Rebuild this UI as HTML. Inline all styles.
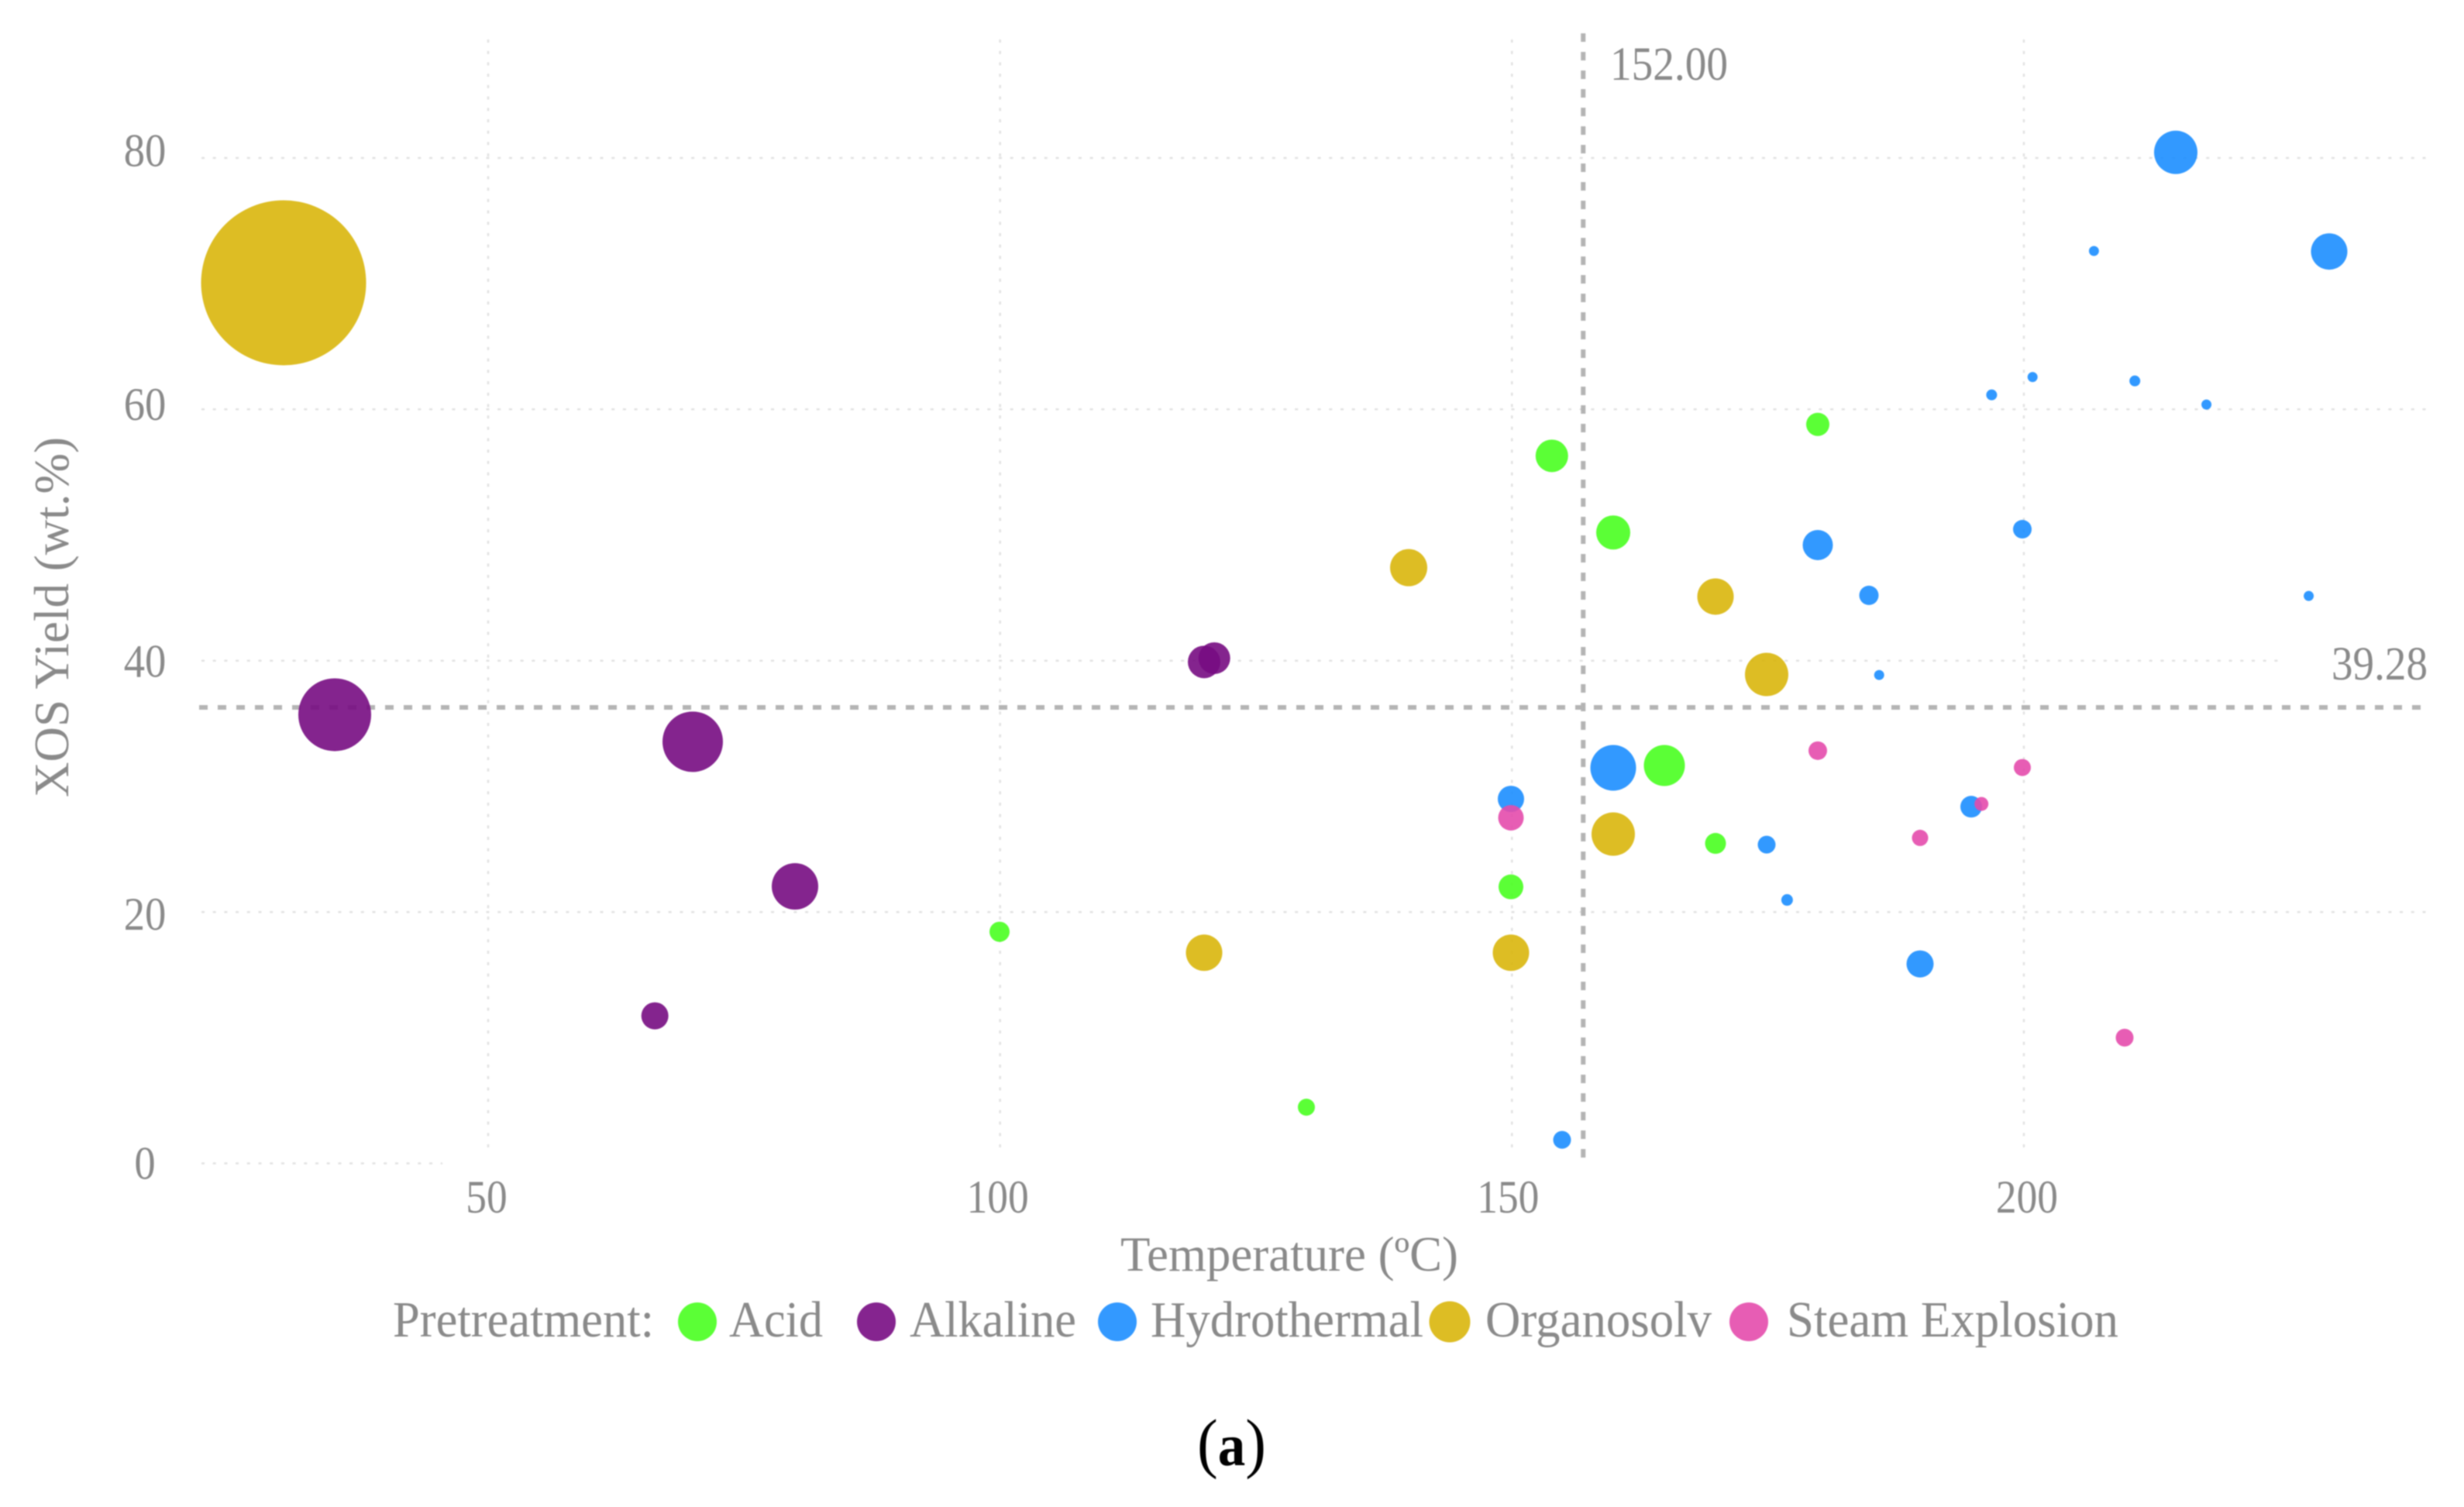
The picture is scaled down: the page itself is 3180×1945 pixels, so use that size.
<!DOCTYPE html>
<html lang="en">
<head>
<meta charset="utf-8">
<title>XOS Yield vs Temperature</title>
<style>
  html, body { margin: 0; padding: 0; background: #ffffff; }
  body { width: 3180px; height: 1945px; overflow: hidden; }
  svg { display: block; filter: blur(0.8px); }
  text { font-family: "Liberation Serif", serif; fill: #8a8a8a; }
</style>
</head>
<body>
<svg id="chart" xmlns="http://www.w3.org/2000/svg" width="3180" height="1945" viewBox="0 0 3180 1945">
  <rect x="0" y="0" width="3180" height="1945" fill="#ffffff"/>
  <g id="grid"></g>
  <g id="reference-lines"></g>
  <g id="marks"></g>
  <g id="ticks"></g>

  <text transform="translate(88,1029) rotate(-90)" font-size="64" textLength="465" lengthAdjust="spacingAndGlyphs">XOS Yield (wt.%)</text>
  <text x="1446" y="1640" font-size="63" textLength="436" lengthAdjust="spacingAndGlyphs">Temperature (ºC)</text>

  <g>
    <text x="507" y="1725" font-size="66" textLength="337" lengthAdjust="spacingAndGlyphs">Pretreatment:</text>
    <circle cx="900" cy="1706" r="25" fill="#5BFF36"/>
    <text x="941" y="1725" font-size="66" textLength="121" lengthAdjust="spacingAndGlyphs">Acid</text>
    <circle cx="1131" cy="1706" r="25" fill="#85248F"/>
    <text x="1174" y="1725" font-size="66" textLength="215" lengthAdjust="spacingAndGlyphs">Alkaline</text>
    <circle cx="1442" cy="1706" r="25" fill="#3399FF"/>
    <text x="1485" y="1725" font-size="66" textLength="352" lengthAdjust="spacingAndGlyphs">Hydrothermal</text>
    <circle cx="1871" cy="1706" r="26.5" fill="#DDBD24"/>
    <text x="1917" y="1725" font-size="66" textLength="292" lengthAdjust="spacingAndGlyphs">Organosolv</text>
    <circle cx="2257" cy="1706" r="25" fill="#E75DB4"/>
    <text x="2306" y="1725" font-size="66" textLength="428" lengthAdjust="spacingAndGlyphs">Steam Explosion</text>
  </g>

  <text x="1545" y="1891" font-size="86" textLength="89" lengthAdjust="spacingAndGlyphs" style="fill:#000000">(<tspan font-weight="bold" font-size="76">a</tspan>)</text>
</svg>

<script>
// Axis ticks
const xTicks = [50, 100, 150, 200];
const yTicks = [0, 20, 40, 60, 80];

// Reference lines (position as drawn) and their printed labels
const refTemperature = [156.96];
const refYield = [36.28];
const refTemperatureLabel = ["152.00"];
const refYieldLabel = ["39.28"];

// Series: temperature (ºC), XOS yield (wt.%), bubble size
const acidTemp  = [100, 130, 150, 154, 160, 165, 170, 180];
const acidYield = [18.43, 4.47, 22.0, 56.3, 50.2, 31.66, 25.46, 58.8];
const acidSize  = [169, 121, 256, 441, 484, 702, 182, 225];

const alkalineTemp  = [35, 66.3, 70, 80, 120, 121];
const alkalineYield = [35.7, 11.74, 33.55, 22.04, 39.9, 40.2];
const alkalineSize  = [2209, 306, 1521, 900, 441, 420];

const hydroTemp  = [150, 155, 160, 175, 177, 180, 185, 186, 190, 195, 197, 200, 201, 207, 211, 215, 218, 228, 230];
const hydroYield = [29.0, 1.87, 31.47, 25.36, 20.96, 49.2, 45.2, 38.86, 15.87, 28.38, 61.15, 50.46, 62.57, 72.6, 62.26, 80.45, 60.38, 45.15, 72.56];
const hydroSize  = [289, 132, 870, 132, 56, 380, 156, 42, 306, 196, 49, 144, 42, 42, 49, 784, 42, 42, 552];

const organoTemp  = [30, 120, 140, 150, 160, 170, 175];
const organoYield = [70.07, 16.76, 47.4, 16.76, 26.2, 45.1, 38.9];
const organoSize  = [11342, 552, 576, 552, 784, 552, 784];

const steamTemp  = [150, 180, 190, 196, 200, 210];
const steamYield = [27.5, 32.84, 25.9, 28.6, 31.5, 10.0];
const steamSize  = [272, 144, 110, 81, 121, 132];

const SVG_NS = "http://www.w3.org/2000/svg";

// Axis functions (gridlines sit a hair wider than the marks in the source figure)
function x(temp) { return 630 + (temp - 50) * 13.2; }
function gridX(temp) { return 630 + (temp - 50) * 13.213; }
function y(yieldPct) { return 1501.5 - yieldPct * 16.22; }
function radius(size) { return Math.sqrt(size); }

function drawLine(parent, x1, y1, x2, y2, stroke, width, dash) {
  const el = document.createElementNS(SVG_NS, "line");
  el.setAttribute("x1", x1);
  el.setAttribute("y1", y1);
  el.setAttribute("x2", x2);
  el.setAttribute("y2", y2);
  el.setAttribute("stroke", stroke);
  el.setAttribute("stroke-width", width);
  el.setAttribute("stroke-dasharray", dash);
  parent.appendChild(el);
  return el;
}

function drawText(parent, str, px, py, size, anchor, length) {
  const el = document.createElementNS(SVG_NS, "text");
  el.setAttribute("x", px);
  el.setAttribute("y", py);
  el.setAttribute("font-size", size);
  el.setAttribute("text-anchor", anchor);
  el.setAttribute("textLength", length);
  el.setAttribute("lengthAdjust", "spacingAndGlyphs");
  el.textContent = str;
  parent.appendChild(el);
  return el;
}

const gridLayer = document.getElementById("grid");
const refLayer = document.getElementById("reference-lines");
const markLayer = document.getElementById("marks");
const tickLayer = document.getElementById("ticks");

const GRID_COLOR = "#e2e2e2";
const GRID_DASH = "4 10.7";
const PLOT_LEFT = 260;
const PLOT_RIGHT = 3133;

// Gridlines
xTicks.forEach(function (t) {
  const line = drawLine(gridLayer, gridX(t), 51, gridX(t), 1488, GRID_COLOR, 2.5, GRID_DASH);
  
  
});
yTicks.forEach(function (t) {
  const end = t === 0 ? 571 : (t === 40 ? 2944 : PLOT_RIGHT);
  const line = drawLine(gridLayer, PLOT_LEFT, y(t), end, y(t), GRID_COLOR, 2.5, GRID_DASH);
  
  
});

// Reference lines
refTemperature.forEach(function (v) {
  const line = drawLine(refLayer, gridX(v), 43, gridX(v), 1497, "#b4b4b4", 6, "11 13");
  
  
});
refYield.forEach(function (v) {
  const line = drawLine(refLayer, 257, y(v), PLOT_RIGHT, y(v), "#b4b4b4", 6, "11 13");
  
  
});

// Bubbles
function drawSeries(name, fill, temps, yields, sizes) {
  const group = document.createElementNS(SVG_NS, "g");
  
  
  temps.forEach(function (temp, i) {
    const c = document.createElementNS(SVG_NS, "circle");
    c.setAttribute("cx", x(temp));
    c.setAttribute("cy", y(yields[i]));
    c.setAttribute("r", radius(sizes[i]));
    c.setAttribute("fill", fill);
    c.setAttribute("fill-opacity", "0.9");
    
    
    group.appendChild(c);
  });
  markLayer.appendChild(group);
}
drawSeries("acid", "#49FF20", acidTemp, acidYield, acidSize);
drawSeries("alkaline", "#770C82", alkalineTemp, alkalineYield, alkalineSize);
drawSeries("hydrothermal", "#1C8EFF", hydroTemp, hydroYield, hydroSize);
drawSeries("organosolv", "#D9B60C", organoTemp, organoYield, organoSize);
drawSeries("steam-explosion", "#E44BAC", steamTemp, steamYield, steamSize);

// Tick labels (hand-placed in the source figure, hence the small nudges)
const xLabelNudge = { 50: -2, 100: -3, 150: -5, 200: 4 };
const yBaselineNudge = { 0: 20, 20: 23, 40: 21, 60: 13.5, 80: 10.5 };
xTicks.forEach(function (t) {
  const str = String(t);
  const label = drawText(tickLayer, str, gridX(t) + xLabelNudge[t], 1565, 60, "middle", str.length * 26.7);
  
  
});
yTicks.forEach(function (t) {
  const str = String(t);
  const label = drawText(tickLayer, str, 187, y(t) + yBaselineNudge[t], 60, "middle", str.length * 27.3);
  
  
});

// Reference line labels
const tempRefLabel = drawText(tickLayer, refTemperatureLabel[0], 2078, 103, 61, "start", 152);


const yieldRefLabel = drawText(tickLayer, refYieldLabel[0], 3009, 877, 61, "start", 124);


</script>
</body>
</html>
